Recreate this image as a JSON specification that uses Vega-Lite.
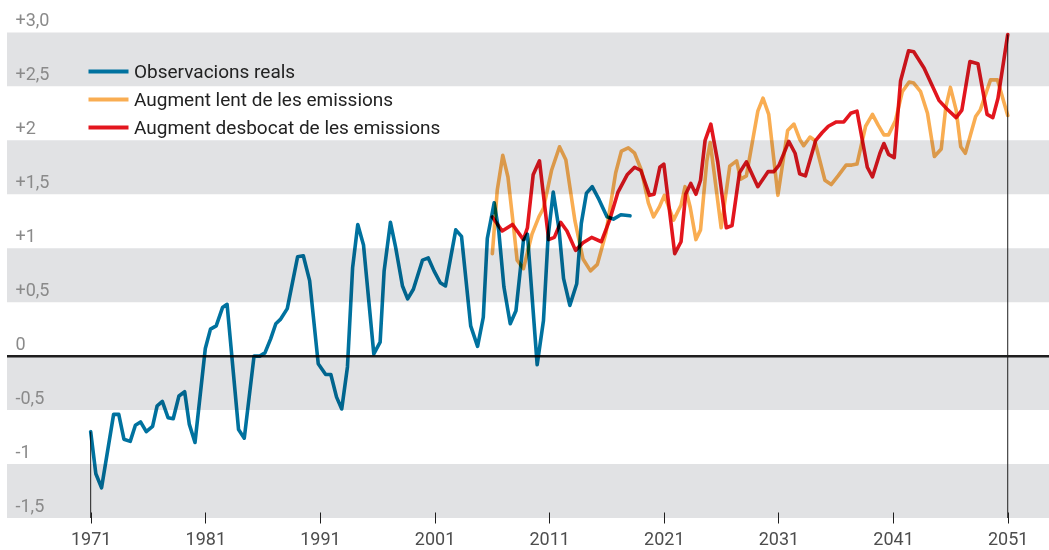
{
  "$schema": "https://vega.github.io/schema/vega-lite/v6.json",
  "width": 1042,
  "height": 518,
  "autosize": "none",
  "padding": {"left": 7, "top": 0, "right": 0, "bottom": 32},
  "background": "white",
  "config": {"view": {"stroke": null}, "font": "Roboto"},
  "datasets": {
    "bands": [
      {"anomalia": 2.5, "hi": 3.0}, {"anomalia": 1.5, "hi": 2.0}, {"anomalia": 0.5, "hi": 1.0}, {"anomalia": -0.5, "hi": 0}, {"anomalia": -1.5, "hi": -1.0}
    ],
    "ends": [{"any": 1971, "anomalia": -0.70}, {"any": 2051, "anomalia": 2.98}],
    "zero": [{"anomalia": 0}],
    "series": [
      {"serie": "Observacions reals", "any": 1971.0, "anomalia": -0.70},
      {"serie": "Observacions reals", "any": 1971.45, "anomalia": -1.09},
      {"serie": "Observacions reals", "any": 1971.95, "anomalia": -1.22},
      {"serie": "Observacions reals", "any": 1973.0, "anomalia": -0.54},
      {"serie": "Observacions reals", "any": 1973.45, "anomalia": -0.54},
      {"serie": "Observacions reals", "any": 1973.9, "anomalia": -0.77},
      {"serie": "Observacions reals", "any": 1974.45, "anomalia": -0.79},
      {"serie": "Observacions reals", "any": 1974.9, "anomalia": -0.64},
      {"serie": "Observacions reals", "any": 1975.35, "anomalia": -0.61},
      {"serie": "Observacions reals", "any": 1975.85, "anomalia": -0.70},
      {"serie": "Observacions reals", "any": 1976.4, "anomalia": -0.65},
      {"serie": "Observacions reals", "any": 1976.8, "anomalia": -0.46},
      {"serie": "Observacions reals", "any": 1977.25, "anomalia": -0.42},
      {"serie": "Observacions reals", "any": 1977.75, "anomalia": -0.57},
      {"serie": "Observacions reals", "any": 1978.2, "anomalia": -0.58},
      {"serie": "Observacions reals", "any": 1978.7, "anomalia": -0.37},
      {"serie": "Observacions reals", "any": 1979.2, "anomalia": -0.33},
      {"serie": "Observacions reals", "any": 1979.6, "anomalia": -0.63},
      {"serie": "Observacions reals", "any": 1980.1, "anomalia": -0.80},
      {"serie": "Observacions reals", "any": 1981.0, "anomalia": 0.07},
      {"serie": "Observacions reals", "any": 1981.45, "anomalia": 0.25},
      {"serie": "Observacions reals", "any": 1981.95, "anomalia": 0.28},
      {"serie": "Observacions reals", "any": 1982.5, "anomalia": 0.45},
      {"serie": "Observacions reals", "any": 1982.9, "anomalia": 0.48},
      {"serie": "Observacions reals", "any": 1983.9, "anomalia": -0.68},
      {"serie": "Observacions reals", "any": 1984.4, "anomalia": -0.76},
      {"serie": "Observacions reals", "any": 1985.25, "anomalia": 0.0},
      {"serie": "Observacions reals", "any": 1985.75, "anomalia": 0.0},
      {"serie": "Observacions reals", "any": 1986.2, "anomalia": 0.03},
      {"serie": "Observacions reals", "any": 1986.7, "anomalia": 0.16},
      {"serie": "Observacions reals", "any": 1987.15, "anomalia": 0.30},
      {"serie": "Observacions reals", "any": 1987.55, "anomalia": 0.34},
      {"serie": "Observacions reals", "any": 1988.15, "anomalia": 0.44},
      {"serie": "Observacions reals", "any": 1989.05, "anomalia": 0.92},
      {"serie": "Observacions reals", "any": 1989.55, "anomalia": 0.93},
      {"serie": "Observacions reals", "any": 1990.1, "anomalia": 0.70},
      {"serie": "Observacions reals", "any": 1990.85, "anomalia": -0.07},
      {"serie": "Observacions reals", "any": 1991.5, "anomalia": -0.17},
      {"serie": "Observacions reals", "any": 1991.95, "anomalia": -0.17},
      {"serie": "Observacions reals", "any": 1992.45, "anomalia": -0.38},
      {"serie": "Observacions reals", "any": 1992.9, "anomalia": -0.49},
      {"serie": "Observacions reals", "any": 1993.4, "anomalia": -0.10},
      {"serie": "Observacions reals", "any": 1993.85, "anomalia": 0.82},
      {"serie": "Observacions reals", "any": 1994.3, "anomalia": 1.22},
      {"serie": "Observacions reals", "any": 1994.8, "anomalia": 1.03},
      {"serie": "Observacions reals", "any": 1995.7, "anomalia": 0.02},
      {"serie": "Observacions reals", "any": 1996.25, "anomalia": 0.13},
      {"serie": "Observacions reals", "any": 1996.6, "anomalia": 0.79},
      {"serie": "Observacions reals", "any": 1997.15, "anomalia": 1.24},
      {"serie": "Observacions reals", "any": 1997.6, "anomalia": 1.01},
      {"serie": "Observacions reals", "any": 1998.2, "anomalia": 0.65},
      {"serie": "Observacions reals", "any": 1998.65, "anomalia": 0.53},
      {"serie": "Observacions reals", "any": 1999.15, "anomalia": 0.62},
      {"serie": "Observacions reals", "any": 1999.95, "anomalia": 0.89},
      {"serie": "Observacions reals", "any": 2000.45, "anomalia": 0.91},
      {"serie": "Observacions reals", "any": 2000.95, "anomalia": 0.79},
      {"serie": "Observacions reals", "any": 2001.5, "anomalia": 0.68},
      {"serie": "Observacions reals", "any": 2001.95, "anomalia": 0.65},
      {"serie": "Observacions reals", "any": 2002.85, "anomalia": 1.17},
      {"serie": "Observacions reals", "any": 2003.35, "anomalia": 1.11},
      {"serie": "Observacions reals", "any": 2004.15, "anomalia": 0.28},
      {"serie": "Observacions reals", "any": 2004.75, "anomalia": 0.09},
      {"serie": "Observacions reals", "any": 2005.25, "anomalia": 0.36},
      {"serie": "Observacions reals", "any": 2005.6, "anomalia": 1.09},
      {"serie": "Observacions reals", "any": 2006.2, "anomalia": 1.42},
      {"serie": "Observacions reals", "any": 2006.6, "anomalia": 1.16},
      {"serie": "Observacions reals", "any": 2007.05, "anomalia": 0.64},
      {"serie": "Observacions reals", "any": 2007.6, "anomalia": 0.30},
      {"serie": "Observacions reals", "any": 2008.1, "anomalia": 0.42},
      {"serie": "Observacions reals", "any": 2008.75, "anomalia": 1.07},
      {"serie": "Observacions reals", "any": 2009.1, "anomalia": 1.13},
      {"serie": "Observacions reals", "any": 2009.95, "anomalia": -0.08},
      {"serie": "Observacions reals", "any": 2010.5, "anomalia": 0.33},
      {"serie": "Observacions reals", "any": 2010.9, "anomalia": 1.10},
      {"serie": "Observacions reals", "any": 2011.35, "anomalia": 1.52},
      {"serie": "Observacions reals", "any": 2011.85, "anomalia": 1.18},
      {"serie": "Observacions reals", "any": 2012.25, "anomalia": 0.72},
      {"serie": "Observacions reals", "any": 2012.8, "anomalia": 0.47},
      {"serie": "Observacions reals", "any": 2013.4, "anomalia": 0.67},
      {"serie": "Observacions reals", "any": 2013.8, "anomalia": 1.23},
      {"serie": "Observacions reals", "any": 2014.25, "anomalia": 1.51},
      {"serie": "Observacions reals", "any": 2014.75, "anomalia": 1.57},
      {"serie": "Observacions reals", "any": 2015.35, "anomalia": 1.45},
      {"serie": "Observacions reals", "any": 2016.05, "anomalia": 1.29},
      {"serie": "Observacions reals", "any": 2016.6, "anomalia": 1.27},
      {"serie": "Observacions reals", "any": 2017.25, "anomalia": 1.31},
      {"serie": "Observacions reals", "any": 2018.05, "anomalia": 1.30},

      {"serie": "Augment lent de les emissions", "any": 2006.04, "anomalia": 0.95},
      {"serie": "Augment lent de les emissions", "any": 2006.47, "anomalia": 1.54},
      {"serie": "Augment lent de les emissions", "any": 2006.95, "anomalia": 1.86},
      {"serie": "Augment lent de les emissions", "any": 2007.4, "anomalia": 1.66},
      {"serie": "Augment lent de les emissions", "any": 2007.93, "anomalia": 1.16},
      {"serie": "Augment lent de les emissions", "any": 2008.2, "anomalia": 0.89},
      {"serie": "Augment lent de les emissions", "any": 2008.75, "anomalia": 0.81},
      {"serie": "Augment lent de les emissions", "any": 2009.5, "anomalia": 1.13},
      {"serie": "Augment lent de les emissions", "any": 2010.1, "anomalia": 1.29},
      {"serie": "Augment lent de les emissions", "any": 2010.5, "anomalia": 1.37},
      {"serie": "Augment lent de les emissions", "any": 2011.2, "anomalia": 1.72},
      {"serie": "Augment lent de les emissions", "any": 2011.9, "anomalia": 1.94},
      {"serie": "Augment lent de les emissions", "any": 2012.45, "anomalia": 1.82},
      {"serie": "Augment lent de les emissions", "any": 2013.25, "anomalia": 1.25},
      {"serie": "Augment lent de les emissions", "any": 2013.95, "anomalia": 0.90},
      {"serie": "Augment lent de les emissions", "any": 2014.6, "anomalia": 0.79},
      {"serie": "Augment lent de les emissions", "any": 2015.2, "anomalia": 0.85},
      {"serie": "Augment lent de les emissions", "any": 2015.95, "anomalia": 1.14},
      {"serie": "Augment lent de les emissions", "any": 2016.8, "anomalia": 1.70},
      {"serie": "Augment lent de les emissions", "any": 2017.3, "anomalia": 1.90},
      {"serie": "Augment lent de les emissions", "any": 2017.9, "anomalia": 1.93},
      {"serie": "Augment lent de les emissions", "any": 2018.45, "anomalia": 1.88},
      {"serie": "Augment lent de les emissions", "any": 2019.05, "anomalia": 1.72},
      {"serie": "Augment lent de les emissions", "any": 2019.65, "anomalia": 1.42},
      {"serie": "Augment lent de les emissions", "any": 2020.1, "anomalia": 1.29},
      {"serie": "Augment lent de les emissions", "any": 2020.6, "anomalia": 1.38},
      {"serie": "Augment lent de les emissions", "any": 2021.05, "anomalia": 1.49},
      {"serie": "Augment lent de les emissions", "any": 2021.85, "anomalia": 1.26},
      {"serie": "Augment lent de les emissions", "any": 2022.5, "anomalia": 1.40},
      {"serie": "Augment lent de les emissions", "any": 2022.85, "anomalia": 1.57},
      {"serie": "Augment lent de les emissions", "any": 2023.3, "anomalia": 1.38},
      {"serie": "Augment lent de les emissions", "any": 2023.8, "anomalia": 1.08},
      {"serie": "Augment lent de les emissions", "any": 2024.2, "anomalia": 1.17},
      {"serie": "Augment lent de les emissions", "any": 2024.75, "anomalia": 1.81},
      {"serie": "Augment lent de les emissions", "any": 2025.05, "anomalia": 1.98},
      {"serie": "Augment lent de les emissions", "any": 2026.0, "anomalia": 1.19},
      {"serie": "Augment lent de les emissions", "any": 2026.75, "anomalia": 1.76},
      {"serie": "Augment lent de les emissions", "any": 2027.35, "anomalia": 1.81},
      {"serie": "Augment lent de les emissions", "any": 2027.7, "anomalia": 1.64},
      {"serie": "Augment lent de les emissions", "any": 2028.2, "anomalia": 1.67},
      {"serie": "Augment lent de les emissions", "any": 2028.7, "anomalia": 1.97},
      {"serie": "Augment lent de les emissions", "any": 2029.2, "anomalia": 2.27},
      {"serie": "Augment lent de les emissions", "any": 2029.65, "anomalia": 2.39},
      {"serie": "Augment lent de les emissions", "any": 2030.15, "anomalia": 2.24},
      {"serie": "Augment lent de les emissions", "any": 2030.95, "anomalia": 1.49},
      {"serie": "Augment lent de les emissions", "any": 2031.8, "anomalia": 2.09},
      {"serie": "Augment lent de les emissions", "any": 2032.35, "anomalia": 2.15},
      {"serie": "Augment lent de les emissions", "any": 2032.85, "anomalia": 2.01},
      {"serie": "Augment lent de les emissions", "any": 2033.2, "anomalia": 1.95},
      {"serie": "Augment lent de les emissions", "any": 2033.75, "anomalia": 2.03},
      {"serie": "Augment lent de les emissions", "any": 2034.15, "anomalia": 2.00},
      {"serie": "Augment lent de les emissions", "any": 2035.05, "anomalia": 1.63},
      {"serie": "Augment lent de les emissions", "any": 2035.6, "anomalia": 1.59},
      {"serie": "Augment lent de les emissions", "any": 2036.2, "anomalia": 1.67},
      {"serie": "Augment lent de les emissions", "any": 2036.9, "anomalia": 1.77},
      {"serie": "Augment lent de les emissions", "any": 2037.4, "anomalia": 1.77},
      {"serie": "Augment lent de les emissions", "any": 2037.85, "anomalia": 1.78},
      {"serie": "Augment lent de les emissions", "any": 2038.6, "anomalia": 2.13},
      {"serie": "Augment lent de les emissions", "any": 2039.2, "anomalia": 2.24},
      {"serie": "Augment lent de les emissions", "any": 2039.7, "anomalia": 2.14},
      {"serie": "Augment lent de les emissions", "any": 2040.2, "anomalia": 2.05},
      {"serie": "Augment lent de les emissions", "any": 2040.6, "anomalia": 2.05},
      {"serie": "Augment lent de les emissions", "any": 2041.2, "anomalia": 2.18},
      {"serie": "Augment lent de les emissions", "any": 2041.8, "anomalia": 2.45},
      {"serie": "Augment lent de les emissions", "any": 2042.4, "anomalia": 2.54},
      {"serie": "Augment lent de les emissions", "any": 2042.8, "anomalia": 2.53},
      {"serie": "Augment lent de les emissions", "any": 2043.4, "anomalia": 2.45},
      {"serie": "Augment lent de les emissions", "any": 2044.0, "anomalia": 2.25},
      {"serie": "Augment lent de les emissions", "any": 2044.6, "anomalia": 1.85},
      {"serie": "Augment lent de les emissions", "any": 2045.2, "anomalia": 1.92},
      {"serie": "Augment lent de les emissions", "any": 2045.6, "anomalia": 2.31},
      {"serie": "Augment lent de les emissions", "any": 2046.0, "anomalia": 2.49},
      {"serie": "Augment lent de les emissions", "any": 2046.5, "anomalia": 2.28},
      {"serie": "Augment lent de les emissions", "any": 2046.9, "anomalia": 1.94},
      {"serie": "Augment lent de les emissions", "any": 2047.3, "anomalia": 1.88},
      {"serie": "Augment lent de les emissions", "any": 2048.2, "anomalia": 2.22},
      {"serie": "Augment lent de les emissions", "any": 2048.6, "anomalia": 2.28},
      {"serie": "Augment lent de les emissions", "any": 2049.5, "anomalia": 2.56},
      {"serie": "Augment lent de les emissions", "any": 2050.1, "anomalia": 2.56},
      {"serie": "Augment lent de les emissions", "any": 2051.0, "anomalia": 2.23},

      {"serie": "Augment desbocat de les emissions", "any": 2006.04, "anomalia": 1.29},
      {"serie": "Augment desbocat de les emissions", "any": 2006.9, "anomalia": 1.16},
      {"serie": "Augment desbocat de les emissions", "any": 2007.8, "anomalia": 1.22},
      {"serie": "Augment desbocat de les emissions", "any": 2008.75, "anomalia": 1.08},
      {"serie": "Augment desbocat de les emissions", "any": 2009.1, "anomalia": 1.19},
      {"serie": "Augment desbocat de les emissions", "any": 2009.6, "anomalia": 1.68},
      {"serie": "Augment desbocat de les emissions", "any": 2010.15, "anomalia": 1.81},
      {"serie": "Augment desbocat de les emissions", "any": 2010.95, "anomalia": 1.08},
      {"serie": "Augment desbocat de les emissions", "any": 2011.45, "anomalia": 1.10},
      {"serie": "Augment desbocat de les emissions", "any": 2012.0, "anomalia": 1.24},
      {"serie": "Augment desbocat de les emissions", "any": 2012.55, "anomalia": 1.16},
      {"serie": "Augment desbocat de les emissions", "any": 2013.3, "anomalia": 0.98},
      {"serie": "Augment desbocat de les emissions", "any": 2013.95, "anomalia": 1.05},
      {"serie": "Augment desbocat de les emissions", "any": 2014.7, "anomalia": 1.10},
      {"serie": "Augment desbocat de les emissions", "any": 2015.55, "anomalia": 1.06},
      {"serie": "Augment desbocat de les emissions", "any": 2016.3, "anomalia": 1.27},
      {"serie": "Augment desbocat de les emissions", "any": 2017.0, "anomalia": 1.52},
      {"serie": "Augment desbocat de les emissions", "any": 2017.8, "anomalia": 1.68},
      {"serie": "Augment desbocat de les emissions", "any": 2018.45, "anomalia": 1.75},
      {"serie": "Augment desbocat de les emissions", "any": 2019.0, "anomalia": 1.72},
      {"serie": "Augment desbocat de les emissions", "any": 2019.75, "anomalia": 1.49},
      {"serie": "Augment desbocat de les emissions", "any": 2020.15, "anomalia": 1.50},
      {"serie": "Augment desbocat de les emissions", "any": 2020.65, "anomalia": 1.75},
      {"serie": "Augment desbocat de les emissions", "any": 2021.0, "anomalia": 1.78},
      {"serie": "Augment desbocat de les emissions", "any": 2021.95, "anomalia": 0.95},
      {"serie": "Augment desbocat de les emissions", "any": 2022.5, "anomalia": 1.06},
      {"serie": "Augment desbocat de les emissions", "any": 2022.9, "anomalia": 1.50},
      {"serie": "Augment desbocat de les emissions", "any": 2023.35, "anomalia": 1.60},
      {"serie": "Augment desbocat de les emissions", "any": 2023.8, "anomalia": 1.50},
      {"serie": "Augment desbocat de les emissions", "any": 2024.2, "anomalia": 1.63},
      {"serie": "Augment desbocat de les emissions", "any": 2024.6, "anomalia": 2.0},
      {"serie": "Augment desbocat de les emissions", "any": 2025.1, "anomalia": 2.15},
      {"serie": "Augment desbocat de les emissions", "any": 2025.7, "anomalia": 1.80},
      {"serie": "Augment desbocat de les emissions", "any": 2026.45, "anomalia": 1.19},
      {"serie": "Augment desbocat de les emissions", "any": 2026.95, "anomalia": 1.21},
      {"serie": "Augment desbocat de les emissions", "any": 2027.6, "anomalia": 1.70},
      {"serie": "Augment desbocat de les emissions", "any": 2028.2, "anomalia": 1.80},
      {"serie": "Augment desbocat de les emissions", "any": 2029.2, "anomalia": 1.57},
      {"serie": "Augment desbocat de les emissions", "any": 2030.1, "anomalia": 1.71},
      {"serie": "Augment desbocat de les emissions", "any": 2030.6, "anomalia": 1.71},
      {"serie": "Augment desbocat de les emissions", "any": 2031.05, "anomalia": 1.77},
      {"serie": "Augment desbocat de les emissions", "any": 2031.9, "anomalia": 1.99},
      {"serie": "Augment desbocat de les emissions", "any": 2032.45, "anomalia": 1.88},
      {"serie": "Augment desbocat de les emissions", "any": 2032.85, "anomalia": 1.69},
      {"serie": "Augment desbocat de les emissions", "any": 2033.35, "anomalia": 1.67},
      {"serie": "Augment desbocat de les emissions", "any": 2034.25, "anomalia": 2.00},
      {"serie": "Augment desbocat de les emissions", "any": 2034.8, "anomalia": 2.07},
      {"serie": "Augment desbocat de les emissions", "any": 2035.35, "anomalia": 2.13},
      {"serie": "Augment desbocat de les emissions", "any": 2036.05, "anomalia": 2.17},
      {"serie": "Augment desbocat de les emissions", "any": 2036.7, "anomalia": 2.17},
      {"serie": "Augment desbocat de les emissions", "any": 2037.3, "anomalia": 2.25},
      {"serie": "Augment desbocat de les emissions", "any": 2037.85, "anomalia": 2.27},
      {"serie": "Augment desbocat de les emissions", "any": 2038.75, "anomalia": 1.75},
      {"serie": "Augment desbocat de les emissions", "any": 2039.2, "anomalia": 1.66},
      {"serie": "Augment desbocat de les emissions", "any": 2039.85, "anomalia": 1.88},
      {"serie": "Augment desbocat de les emissions", "any": 2040.2, "anomalia": 1.97},
      {"serie": "Augment desbocat de les emissions", "any": 2040.6, "anomalia": 1.87},
      {"serie": "Augment desbocat de les emissions", "any": 2041.1, "anomalia": 1.84},
      {"serie": "Augment desbocat de les emissions", "any": 2041.65, "anomalia": 2.55},
      {"serie": "Augment desbocat de les emissions", "any": 2042.35, "anomalia": 2.83},
      {"serie": "Augment desbocat de les emissions", "any": 2042.8, "anomalia": 2.82},
      {"serie": "Augment desbocat de les emissions", "any": 2043.7, "anomalia": 2.67},
      {"serie": "Augment desbocat de les emissions", "any": 2045.0, "anomalia": 2.37},
      {"serie": "Augment desbocat de les emissions", "any": 2045.7, "anomalia": 2.29},
      {"serie": "Augment desbocat de les emissions", "any": 2046.5, "anomalia": 2.21},
      {"serie": "Augment desbocat de les emissions", "any": 2047.0, "anomalia": 2.28},
      {"serie": "Augment desbocat de les emissions", "any": 2047.7, "anomalia": 2.73},
      {"serie": "Augment desbocat de les emissions", "any": 2048.4, "anomalia": 2.71},
      {"serie": "Augment desbocat de les emissions", "any": 2049.2, "anomalia": 2.24},
      {"serie": "Augment desbocat de les emissions", "any": 2049.7, "anomalia": 2.21},
      {"serie": "Augment desbocat de les emissions", "any": 2050.15, "anomalia": 2.39},
      {"serie": "Augment desbocat de les emissions", "any": 2051.0, "anomalia": 2.98}
    ]
  },
  "resolve": {"scale": {"x": "shared", "y": "shared"}, "axis": {"x": "shared", "y": "shared"}},
  "layer": [
    {
      "data": {"name": "bands"},
      "mark": {"type": "rect", "color": "#e1e2e4"},
      "encoding": {
        "y": {
          "field": "anomalia", "type": "quantitative",
          "scale": {"domain": [-1.5, 3.3], "nice": false, "zero": false},
          "axis": {
            "values": [-1.5, -1, -0.5, 0, 0.5, 1, 1.5, 2, 2.5, 3],
            "labelExpr": "datum.value === 3 ? '+3,0' : (datum.value > 0 ? '+' : '') + replace(toString(datum.value), '.', ',')",
            "domain": false, "ticks": false, "grid": false,
            "labelAlign": "left", "labelPadding": -8, "labelBaseline": "alphabetic", "labelOffset": -7,
            "labelFontSize": 18, "labelFont": "Roboto", "labelColor": "#8a8a8a",
            "title": null, "zindex": 1
          }
        },
        "y2": {"field": "hi"}
      }
    },
    {
      "data": {"name": "zero"},
      "mark": {"type": "rule", "color": "#1e1e1e", "strokeWidth": 2.5},
      "encoding": {
        "y": {
          "field": "anomalia", "type": "quantitative",
          "scale": {"domain": [-1.5, 3.3], "nice": false, "zero": false},
          "axis": {
            "values": [-1.5, -1, -0.5, 0, 0.5, 1, 1.5, 2, 2.5, 3],
            "labelExpr": "datum.value === 3 ? '+3,0' : (datum.value > 0 ? '+' : '') + replace(toString(datum.value), '.', ',')",
            "domain": false, "ticks": false, "grid": false,
            "labelAlign": "left", "labelPadding": -8, "labelBaseline": "alphabetic", "labelOffset": -7,
            "labelFontSize": 18, "labelFont": "Roboto", "labelColor": "#8a8a8a",
            "title": null, "zindex": 1
          }
        }
      }
    },
    {
      "data": {"name": "ends"},
      "mark": {"type": "rule", "color": "#1e1e1e", "strokeWidth": 1},
      "encoding": {
        "x": {
          "field": "any", "type": "quantitative",
          "scale": {"domain": [1963.7, 2054.6], "nice": false, "zero": false},
          "axis": {
            "values": [1971, 1981, 1991, 2001, 2011, 2021, 2031, 2041, 2051],
            "format": "d", "domain": false, "grid": false,
            "ticks": true, "tickSize": 11, "tickColor": "#1e1e1e", "tickWidth": 1, "offset": -6,
            "labelFontSize": 18, "labelFont": "Roboto", "labelColor": "#4d4d4d", "labelPadding": 7,
            "labelFlush": false, "title": null, "zindex": 1
          }
        },
        "y": {
          "field": "anomalia", "type": "quantitative",
          "scale": {"domain": [-1.5, 3.3], "nice": false, "zero": false},
          "axis": {
            "values": [-1.5, -1, -0.5, 0, 0.5, 1, 1.5, 2, 2.5, 3],
            "labelExpr": "datum.value === 3 ? '+3,0' : (datum.value > 0 ? '+' : '') + replace(toString(datum.value), '.', ',')",
            "domain": false, "ticks": false, "grid": false,
            "labelAlign": "left", "labelPadding": -8, "labelBaseline": "alphabetic", "labelOffset": -7,
            "labelFontSize": 18, "labelFont": "Roboto", "labelColor": "#8a8a8a",
            "title": null, "zindex": 1
          }
        },
        "y2": {"datum": -1.5}
      }
    },
    {
      "data": {"name": "series"},
      "mark": {"type": "line", "strokeWidth": 3.6, "strokeJoin": "round", "strokeCap": "round", "blend": "multiply"},
      "encoding": {
        "x": {
          "field": "any", "type": "quantitative",
          "scale": {"domain": [1963.7, 2054.6], "nice": false, "zero": false},
          "axis": {
            "values": [1971, 1981, 1991, 2001, 2011, 2021, 2031, 2041, 2051],
            "format": "d", "domain": false, "grid": false,
            "ticks": true, "tickSize": 11, "tickColor": "#1e1e1e", "tickWidth": 1, "offset": -6,
            "labelFontSize": 18, "labelFont": "Roboto", "labelColor": "#4d4d4d", "labelPadding": 7,
            "labelFlush": false, "title": null, "zindex": 1
          }
        },
        "y": {
          "field": "anomalia", "type": "quantitative",
          "scale": {"domain": [-1.5, 3.3], "nice": false, "zero": false},
          "axis": {
            "values": [-1.5, -1, -0.5, 0, 0.5, 1, 1.5, 2, 2.5, 3],
            "labelExpr": "datum.value === 3 ? '+3,0' : (datum.value > 0 ? '+' : '') + replace(toString(datum.value), '.', ',')",
            "domain": false, "ticks": false, "grid": false,
            "labelAlign": "left", "labelPadding": -8, "labelBaseline": "alphabetic", "labelOffset": -7,
            "labelFontSize": 18, "labelFont": "Roboto", "labelColor": "#8a8a8a",
            "title": null, "zindex": 1
          }
        },
        "color": {
          "field": "serie", "type": "nominal",
          "scale": {
            "domain": ["Observacions reals", "Augment lent de les emissions", "Augment desbocat de les emissions"],
            "range": ["#00729f", "#f9ad52", "#e3161e"]
          },
          "legend": {
            "title": null, "orient": "none", "legendX": 92, "legendY": 62, "padding": 0,
            "symbolType": "M-4,0H4", "symbolSize": 100, "symbolStrokeWidth": 4,
            "labelFontSize": 19, "labelFont": "Roboto", "labelColor": "#222222", "labelOffset": 16,
            "rowPadding": 8, "labelLimit": 600
          }
        }
      }
    }
  ]
}
